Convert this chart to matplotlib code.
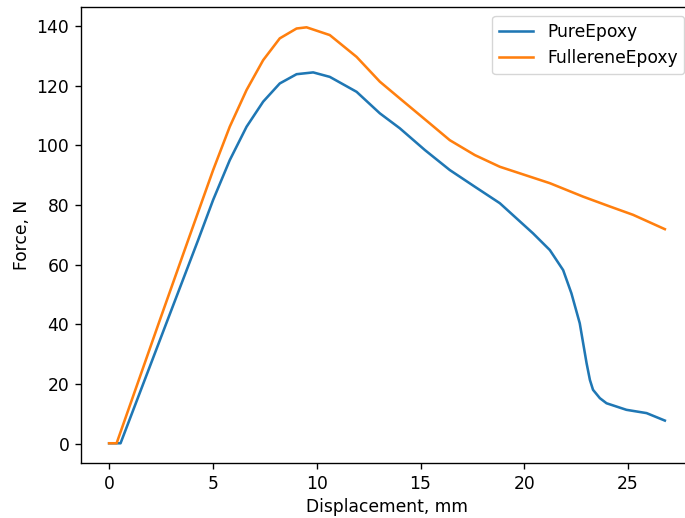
import matplotlib
matplotlib.use("Agg")
import matplotlib.pyplot as plt

# Values (displacement in mm, force in N)
pure_x = [0.0, 0.55, 2.80, 4.29, 5.01, 5.81, 6.62, 7.42, 8.22, 9.03, 9.83,
          10.63, 11.92, 13.04, 14.0, 15.21, 16.41, 17.62, 18.82, 20.42, 21.23,
          21.87, 22.27, 22.67, 23.0, 23.16, 23.31, 23.64, 23.96, 24.92, 25.89,
          26.77]
pure_y = [0.2, 0.2, 41.2, 68.3, 81.7, 95.0, 106.2, 114.6, 120.7, 123.8, 124.4,
          122.9, 117.9, 110.7, 105.7, 98.4, 91.7, 86.1, 80.6, 70.5, 64.9,
          58.2, 50.4, 40.4, 27.0, 21.4, 18.1, 15.3, 13.6, 11.4, 10.3,
          7.8]

fuller_x = [0.0, 0.36, 2.43, 3.81, 5.01, 5.81, 6.62, 7.42, 8.22, 9.03, 9.51,
            10.63, 11.92, 13.04, 14.0, 15.45, 16.41, 17.62, 18.82, 21.23,
            22.83, 24.12, 25.24, 26.77]
fuller_y = [0.2, 0.2, 41.2, 68.3, 91.7, 106.2, 118.5, 128.5, 135.8, 139.1, 139.5,
            136.9, 129.6, 121.3, 115.7, 107.3, 101.7, 96.7, 92.8, 87.3,
            82.8, 79.5, 76.7, 71.9]

scale = 1.23
plt.rcParams['font.size'] = 10 * scale
plt.rcParams['lines.linewidth'] = 1.5 * scale
plt.rcParams['axes.linewidth'] = 0.8 * scale
for a in ('xtick', 'ytick'):
    plt.rcParams[a + '.major.size'] = 3.5 * scale
    plt.rcParams[a + '.major.width'] = 0.8 * scale
    plt.rcParams[a + '.major.pad'] = 3.5 * scale

fig = plt.figure(figsize=(6.85, 5.18), dpi=100)
ax = fig.add_axes([0.1187, 0.1068, 0.8928, 0.8791])

ax.plot(pure_x, pure_y, label='PureEpoxy')
ax.plot(fuller_x, fuller_y, label='FullereneEpoxy')

ax.set_xlim(-1.34, 28.12)
ax.set_ylim(-6.3, 146.2)
ax.set_xlabel('Displacement, mm')
ax.set_ylabel('Force, N')
ax.legend(loc='upper right')

fig.savefig('out.png', dpi=100)
